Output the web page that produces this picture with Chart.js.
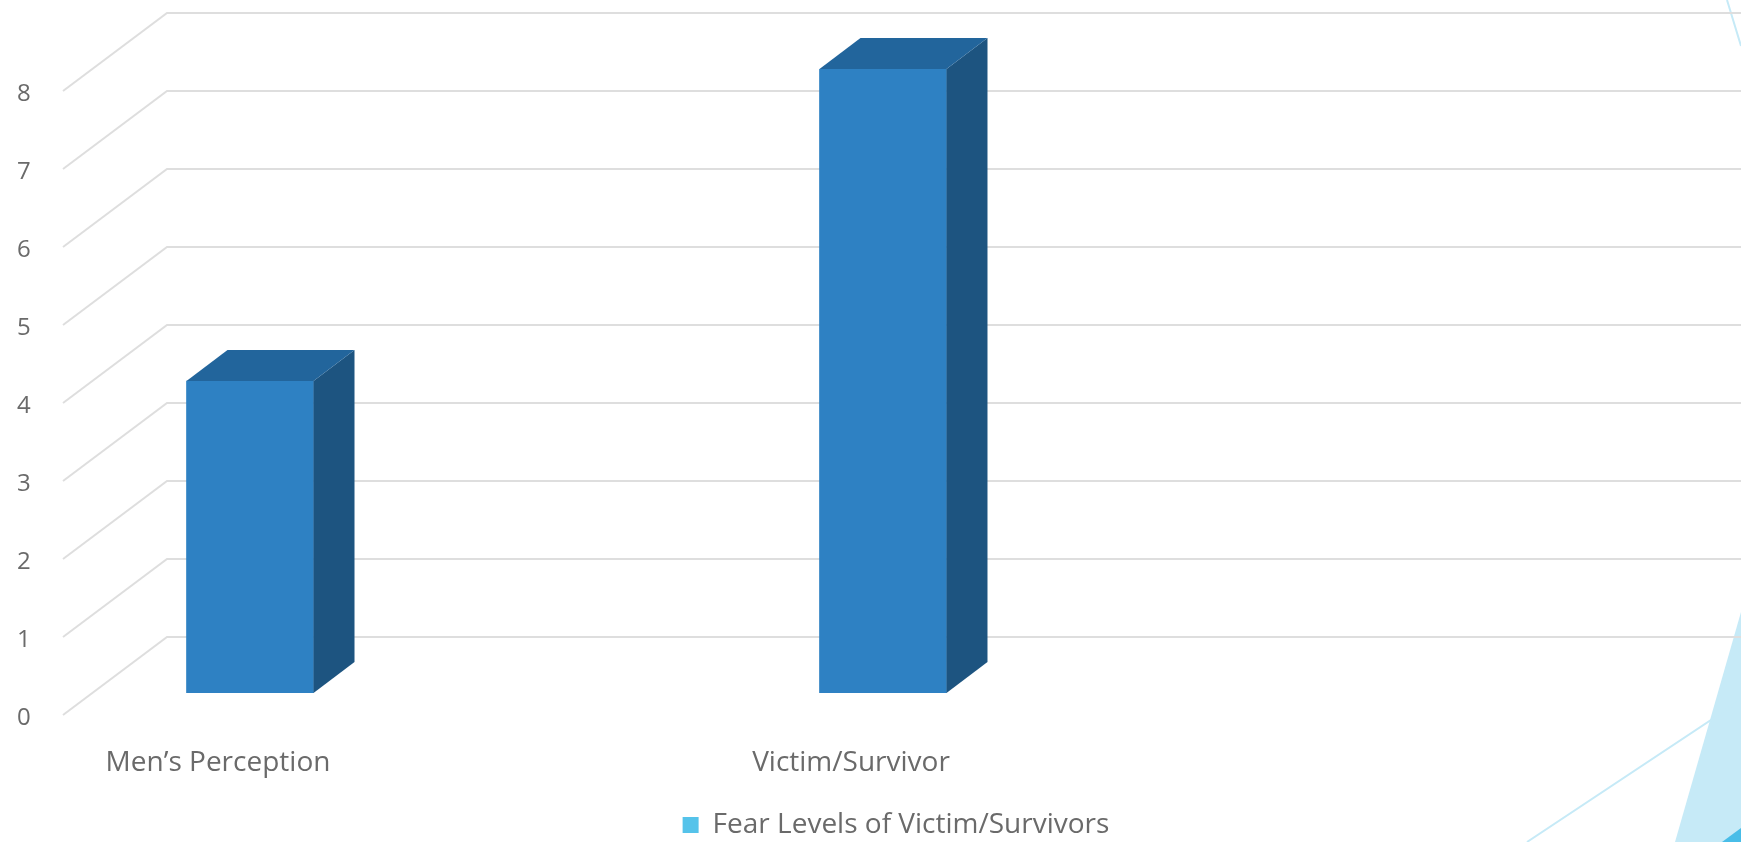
<!DOCTYPE html>
<html>
<head>
<meta charset="utf-8">
<title>Fear Levels</title>
<script src="https://cdn.jsdelivr.net/npm/chart.js@4.4.1/dist/chart.umd.min.js"></script>
<style>
  html, body { margin: 0; padding: 0; background: #fff; overflow: hidden; }
  #chart { display: block; }
</style>
</head>
<body>
<canvas id="chart" width="1741" height="842"></canvas>
<script>
// Fear levels bar chart, drawn with a faux 3D look (side wall, back wall, bar tops and sides)

const categories = ['Men’s Perception', 'Victim/Survivor'];
const fearLevels = [4, 8];
const yTicks = [0, 1, 2, 3, 4, 5, 6, 7, 8];
const seriesLabel = 'Fear Levels of Victim/Survivors';

const COLORS = {
    front: '#2E81C3',
    top: '#22659C',
    side: '#1D5480',
    legend: '#55C3EA',
    grid: '#DEDEDE',
    text: '#6A6A6A',
    deco: '#C6EAF7',
    decoDark: '#48BDE8'
};

// walls, measured from the plane the bar fronts sit in
const WALL_INSET = 106;                 // chart area left -> back wall left
const BACK_WALL = { dx: 0, dy: -56 };
const FRONT_EDGE = { dx: -104, dy: 78 }; // back wall -> front edge of the floor
const BAR_DEPTH = { dx: 41, dy: -31 };

const FONT = '"Open Sans", "DejaVu Sans", sans-serif';

// theme shapes in the corners, painted under everything else
const backdrop = {
    id: 'backdrop',
    beforeDraw(chart) {
        const { ctx, width, height } = chart;
        ctx.save();
        ctx.fillStyle = '#fff';
        ctx.fillRect(0, 0, width, height);

        ctx.fillStyle = COLORS.deco;
        ctx.beginPath();
        ctx.moveTo(width, 612);
        ctx.lineTo(width, height);
        ctx.lineTo(1675, height);
        ctx.closePath();
        ctx.fill();

        ctx.fillStyle = COLORS.decoDark;
        ctx.beginPath();
        ctx.moveTo(width, 828);
        ctx.lineTo(width, height);
        ctx.lineTo(1722, height);
        ctx.closePath();
        ctx.fill();

        ctx.strokeStyle = COLORS.deco;
        ctx.lineWidth = 2;
        ctx.beginPath();
        ctx.moveTo(1527, height);
        ctx.lineTo(width, 700);
        ctx.moveTo(1727, 0);
        ctx.lineTo(width, 46);
        ctx.stroke();
        ctx.restore();
    }
};

// side wall diagonals and back wall gridlines, following the y scale
const walls = {
    id: 'walls',
    beforeDatasetsDraw(chart) {
        const { ctx, width, chartArea } = chart;
        const y = chart.scales.y;
        const backLeft = chartArea.left + WALL_INSET;
        ctx.save();
        ctx.strokeStyle = COLORS.grid;
        ctx.lineWidth = 2;
        ctx.beginPath();
        yTicks.forEach(v => {
            const backY = y.getPixelForValue(v) + BACK_WALL.dy;
            ctx.moveTo(backLeft + FRONT_EDGE.dx, backY + FRONT_EDGE.dy);
            ctx.lineTo(backLeft, backY);
            ctx.lineTo(width, backY);
        });
        ctx.stroke();
        ctx.restore();
    }
};

// top and right faces of each bar
const barFaces = {
    id: 'barFaces',
    afterDatasetsDraw(chart) {
        const { ctx } = chart;
        const meta = chart.getDatasetMeta(0);
        ctx.save();
        meta.data.forEach(bar => {
            const { x, y, base, width } = bar.getProps(['x', 'y', 'base', 'width'], true);
            const l = x - width / 2;
            const r = x + width / 2;
            const dx = BAR_DEPTH.dx, dy = BAR_DEPTH.dy;

            ctx.fillStyle = COLORS.side;
            ctx.beginPath();
            ctx.moveTo(r, y);
            ctx.lineTo(r + dx, y + dy);
            ctx.lineTo(r + dx, base + dy);
            ctx.lineTo(r, base);
            ctx.closePath();
            ctx.fill();

            ctx.fillStyle = COLORS.top;
            ctx.beginPath();
            ctx.moveTo(l, y);
            ctx.lineTo(l + dx, y + dy);
            ctx.lineTo(r + dx, y + dy);
            ctx.lineTo(r, y);
            ctx.closePath();
            ctx.fill();
        });
        ctx.restore();
    }
};

new Chart(document.getElementById('chart'), {
    type: 'bar',
    data: {
        datasets: [{
            label: seriesLabel,
            data: categories.map((c, i) => ({ x: i, y: fearLevels[i] })),
            backgroundColor: COLORS.front,
            borderWidth: 0,
            barThickness: 127
        }]
    },
    options: {
        responsive: false,
        animation: false,
        devicePixelRatio: 1,
        layout: { padding: { top: 69, left: 51, right: 0, bottom: 0 } },
        scales: {
            x: {
                type: 'linear',
                offset: false,
                // one category every 633px, the first at 250px
                min: -0.2986,
                max: 2.3555,
                grid: { display: false },
                border: { display: false },
                afterBuildTicks: s => { s.ticks = categories.map((c, i) => ({ value: i })); },
                afterFit: s => { s.height = 108; },
                ticks: {
                    callback: v => categories[v] ?? '',
                    autoSkip: false,
                    maxRotation: 0,
                    padding: 45,
                    labelOffset: -32,
                    color: COLORS.text,
                    font: { family: FONT, size: 28 }
                }
            },
            y: {
                min: 0,
                max: 8,
                grid: { display: false },
                border: { display: false },
                afterFit: s => { s.width = 10; },
                ticks: {
                    stepSize: 1,
                    // mirrored so the labels are not clipped to the narrow axis box
                    mirror: true,
                    padding: -44,
                    labelOffset: 25,
                    color: COLORS.text,
                    font: { family: FONT, size: 24 }
                }
            }
        },
        plugins: {
            tooltip: { enabled: false },
            legend: {
                position: 'bottom',
                maxHeight: 41,
                labels: {
                    boxWidth: 16,
                    boxHeight: 16,
                    padding: 10,
                    color: COLORS.text,
                    font: { family: FONT, size: 28 },
                    generateLabels: () => [{
                        text: seriesLabel,
                        fillStyle: COLORS.legend,
                        strokeStyle: COLORS.legend,
                        fontColor: COLORS.text,
                        lineWidth: 0,
                        hidden: false,
                        datasetIndex: 0
                    }]
                }
            }
        }
    },
    plugins: [backdrop, walls, barFaces]
});
</script>
</body>
</html>
